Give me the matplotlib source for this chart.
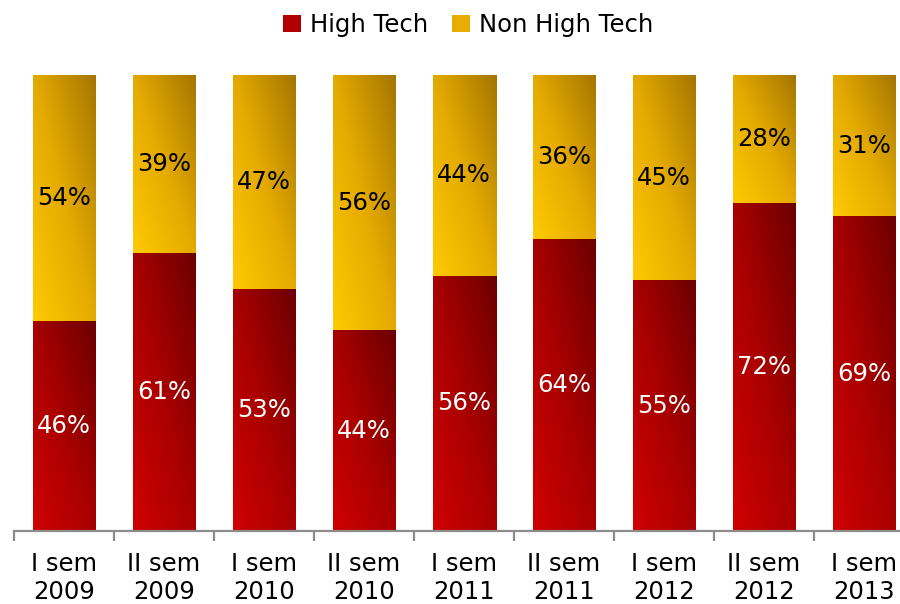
import numpy as np
import matplotlib
matplotlib.use("Agg")
import matplotlib.pyplot as plt
from matplotlib.colors import LinearSegmentedColormap
from matplotlib.patches import Patch

categories = ["I sem\n2009", "II sem\n2009", "I sem\n2010", "II sem\n2010", "I sem\n2011",
              "II sem\n2011", "I sem\n2012", "II sem\n2012", "I sem\n2013"]
high_tech = [46, 61, 53, 44, 56, 64, 55, 72, 69]
non_high_tech = [54, 39, 47, 56, 44, 36, 45, 28, 31]
series_names = ["High Tech", "Non High Tech"]

plt.rcParams['font.family'] = ['DejaVu Sans']
FS = 17.5

fig = plt.figure(figsize=(9.0, 6.04), dpi=100)
ax = fig.add_axes([14/900, 73/604, 900/900, 456/604])

red_cmap = LinearSegmentedColormap.from_list("r", ["#D00000", "#A80000", "#6C0000"])
yel_cmap = LinearSegmentedColormap.from_list("y", ["#FFCA00", "#E4AA00", "#A57600"])

# diagonal gradient (bottom-left light -> top-right dark)
n = 64
u = np.linspace(0, 1, n)
U, V = np.meshgrid(u, u)
grad = (U + V) / 2.0

width = 0.63
x = np.arange(len(categories))

def grad_bars(xs, heights, bottoms, cmap):
    bars = ax.bar(xs, heights, width, bottom=bottoms, color="none", edgecolor="none")
    for b in bars:
        x0, y0 = b.get_x(), b.get_y()
        w, h = b.get_width(), b.get_height()
        im = ax.imshow(grad, cmap=cmap, origin="lower", aspect="auto",
                       extent=[x0, x0 + w, y0, y0 + h], interpolation="bilinear",
                       vmin=0, vmax=1, zorder=2)
        im.set_clip_path(b)
    return bars

grad_bars(x, high_tech, [0]*len(x), red_cmap)
grad_bars(x, non_high_tech, high_tech, yel_cmap)

for i in range(len(x)):
    ax.text(x[i], high_tech[i] / 2, f"{high_tech[i]}%", ha="center", va="center",
            color="white", fontsize=FS, zorder=3)
    ax.text(x[i], high_tech[i] + non_high_tech[i] / 2, f"{non_high_tech[i]}%",
            ha="center", va="center", color="black", fontsize=FS, zorder=3)

ax.set_xlim(-0.5, len(x) - 0.5)
ax.set_ylim(0, 100)
ax.set_yticks([])
for s in ["top", "right", "left"]:
    ax.spines[s].set_visible(False)
ax.spines["bottom"].set_color("#8C8C8C")
ax.spines["bottom"].set_linewidth(1.6)
ax.set_xticks(x)
ax.set_xticklabels(categories, fontsize=FS, linespacing=1.2)
ax.tick_params(axis="x", which="major", length=0, pad=15)
ax.set_xticks(np.arange(-0.5, len(x), 1.0), minor=True)
ax.tick_params(axis="x", which="minor", length=7, width=1.6, color="#8C8C8C")

handles = [Patch(facecolor="#B00000", edgecolor="none"),
           Patch(facecolor="#E6AE00", edgecolor="none")]
fig.legend(handles, series_names, loc="center", bbox_to_anchor=(468/900, 1 - 25/604),
           ncol=2, frameon=False, fontsize=FS, handlelength=0.75, handleheight=0.75,
           handletextpad=0.35, columnspacing=1.0)

fig.savefig("out.png", dpi=100)
